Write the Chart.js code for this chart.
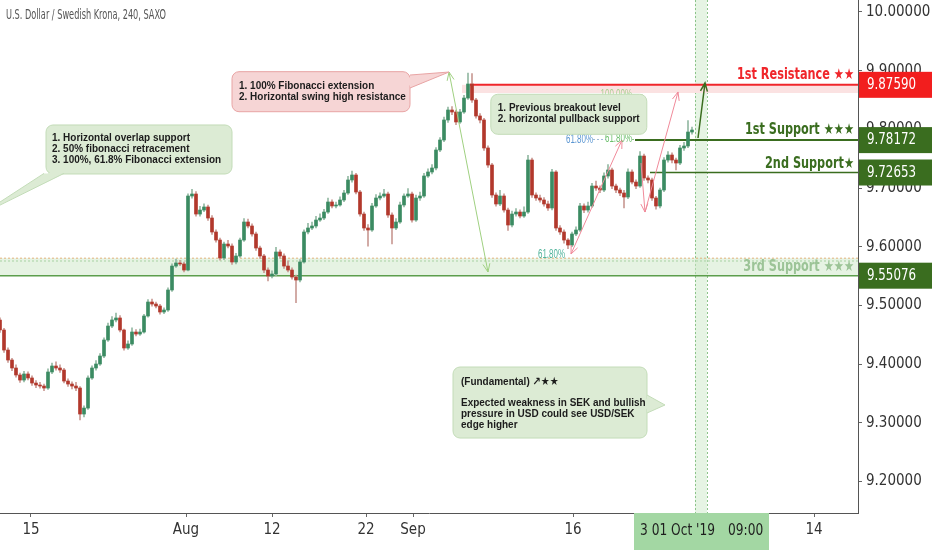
<!DOCTYPE html>
<html>
<head>
<meta charset="utf-8">
<script src="https://cdn.jsdelivr.net/npm/chart.js@4.4.0/dist/chart.umd.min.js"></script>
<style>
  html, body { margin: 0; padding: 0; background: #fff; }
</style>
</head>
<body>
<canvas id="usdsek" width="932" height="550"></canvas>
<script>
// USD/SEK 240 candles (open = previous close)
const firstOpen = 9.4753;
const closes = [
  9.4582,9.4241,9.4071,9.3935,9.3816,9.3730,9.3833,9.3765,9.3679,9.3645,
  9.3628,9.3594,9.3867,9.3969,9.3935,9.3901,9.3713,9.3662,9.3628,9.3594,
  9.3151,9.3253,9.3765,9.3935,9.4003,9.4139,9.4412,9.4650,9.4753,9.4787,
  9.4582,9.4276,9.4344,9.4548,9.4514,9.4548,9.4821,9.5059,9.5025,9.4991,
  9.4889,9.4923,9.5264,9.5672,9.5724,9.5707,9.5604,9.6865,9.6899,9.6558,
  9.6626,9.6678,9.6490,9.6252,9.6115,9.5809,9.6047,9.6013,9.5741,9.5843,
  9.6115,9.6422,9.6354,9.6218,9.5979,9.5843,9.5604,9.5502,9.5536,9.5911,
  9.5843,9.5672,9.5604,9.5485,9.5434,9.5741,9.6252,9.6320,9.6354,9.6456,
  9.6490,9.6592,9.6763,9.6695,9.6712,9.6797,9.6916,9.7138,9.7223,9.6933,
  9.6558,9.6320,9.6286,9.6695,9.6831,9.6865,9.6899,9.6541,9.6320,9.6422,
  9.6712,9.6865,9.6899,9.6456,9.6831,9.6865,9.7206,9.7274,9.7342,9.7649,
  9.7819,9.8160,9.8330,9.8296,9.8126,9.8296,9.8534,9.8773,9.8500,9.8228,
  9.8160,9.7683,9.7393,9.6882,9.6729,9.6865,9.6626,9.6371,9.6558,9.6592,
  9.6524,9.6592,9.7478,9.6882,9.6831,9.6797,9.6729,9.6661,9.7274,9.6320,
  9.6252,9.6115,9.6030,9.6218,9.6286,9.6695,9.6626,9.6695,9.7035,9.7001,
  9.6967,9.7206,9.7308,9.7035,9.6967,9.6916,9.6848,9.7274,9.7103,9.7035,
  9.7546,9.7172,9.7138,9.6831,9.6695,9.6967,9.7478,9.7563,9.7478,9.7427,
  9.7683,9.7717,9.7955,9.7989
];
const highs = [
  9.4790,9.4610,9.4280,9.4100,9.3990,9.3850,9.3880,9.3870,9.3800,9.3720,
  9.3690,9.3660,9.3920,9.4020,9.4040,9.3990,9.3930,9.3750,9.3700,9.3690,
  9.3620,9.3290,9.3800,9.3970,9.4060,9.4180,9.4450,9.4700,9.4810,9.4870,
  9.4830,9.4600,9.4400,9.4620,9.4590,9.4600,9.4850,9.5100,9.5110,9.5060,
  9.5020,9.4960,9.5300,9.5710,9.5790,9.5770,9.5740,9.6900,9.6980,9.6940,
  9.6690,9.6730,9.6710,9.6530,9.6290,9.6150,9.6080,9.6110,9.6050,9.5890,
  9.6150,9.6480,9.6470,9.6390,9.6250,9.6010,9.5870,9.5640,9.5590,9.5990,
  9.5950,9.5880,9.5760,9.5640,9.5520,9.5780,9.6290,9.6400,9.6420,9.6520,
  9.6560,9.6640,9.6830,9.6800,9.6760,9.6850,9.6960,9.7200,9.7290,9.7250,
  9.6960,9.6590,9.6380,9.6740,9.6890,9.6920,9.6980,9.6930,9.6580,9.6480,
  9.6760,9.6900,9.6990,9.6930,9.6880,9.6930,9.7250,9.7330,9.7400,9.7690,
  9.7860,9.8210,9.8380,9.8390,9.8330,9.8340,9.8580,9.8960,9.8950,9.8530,
  9.8270,9.8190,9.7720,9.7420,9.6920,9.6960,9.6900,9.6660,9.6610,9.6650,
  9.6630,9.6680,9.7560,9.7510,9.6920,9.6880,9.6840,9.6780,9.7320,9.7300,
  9.6360,9.6290,9.6140,9.6250,9.6340,9.6740,9.6730,9.6760,9.7080,9.7120,
  9.7040,9.7260,9.7400,9.7340,9.7070,9.7000,9.6960,9.7330,9.7310,9.7140,
  9.7620,9.7580,9.7210,9.7170,9.6860,9.7000,9.7520,9.7620,9.7600,9.7510,
  9.7730,9.7780,9.8150,9.8040
];
const lows = [
  9.4540,9.4200,9.4030,9.3890,9.3780,9.3690,9.3700,9.3730,9.3640,9.3600,
  9.3590,9.3550,9.3570,9.3840,9.3900,9.3860,9.3680,9.3620,9.3580,9.3550,
  9.3050,9.3100,9.3230,9.3740,9.3900,9.3980,9.4110,9.4390,9.4620,9.4720,
  9.4550,9.4240,9.4250,9.4320,9.4480,9.4490,9.4530,9.4800,9.4990,9.4960,
  9.4850,9.4860,9.4900,9.5240,9.5650,9.5680,9.5570,9.5590,9.6830,9.6520,
  9.6520,9.6600,9.6450,9.6210,9.6080,9.5770,9.5780,9.5980,9.5700,9.5710,
  9.5820,9.6090,9.6320,9.6180,9.5940,9.5800,9.5560,9.5420,9.5470,9.5510,
  9.5800,9.5630,9.5570,9.5450,9.5050,9.5400,9.5720,9.6220,9.6290,9.6320,
  9.6430,9.6460,9.6570,9.6660,9.6660,9.6690,9.6770,9.6890,9.7100,9.6900,
  9.6520,9.6280,9.6010,9.6260,9.6670,9.6800,9.6840,9.6500,9.6050,9.6290,
  9.6400,9.6680,9.6840,9.6420,9.6430,9.6790,9.6840,9.7180,9.7240,9.7310,
  9.7620,9.7790,9.8120,9.8250,9.8080,9.8100,9.8270,9.8510,9.8460,9.8190,
  9.8110,9.7640,9.7350,9.6840,9.6690,9.6700,9.6590,9.6280,9.6340,9.6520,
  9.6490,9.6500,9.6570,9.6840,9.6790,9.6760,9.6690,9.6620,9.6630,9.6280,
  9.6210,9.6060,9.5970,9.6000,9.6190,9.6260,9.6580,9.6590,9.6670,9.6960,
  9.6920,9.6940,9.7170,9.6990,9.6920,9.6870,9.6660,9.6820,9.7070,9.6990,
  9.7010,9.7130,9.7090,9.6790,9.6640,9.6660,9.6940,9.7440,9.7430,9.7310,
  9.7400,9.7640,9.7690,9.7920
];

// axes
const priceTicks = [9.2, 9.3, 9.4, 9.5, 9.6, 9.7, 9.8, 9.9, 10.0];
const xTickPos = [7.75, 46.5, 68, 91.5, 103.25, 143.25, 203.5];
const xTickLabels = ['15', 'Aug', '12', '22', 'Sep', '16', '14'];

// key levels
const levelPrices = [9.87590, 9.78172, 9.72653, 9.55076];
const levelNames = ['1st Resistance \u2605\u2605', '1st Support \u2605\u2605\u2605', '2nd Support\u2605', '3rd Support \u2605\u2605\u2605'];

const X_MAX = 214.5;
const UP = '#3b8b62', DOWN = '#b2382c';
const WICK_UP = '#93b9a3', WICK_DOWN = '#c99a94';
const RED = '#f0262b', DKGREEN = '#3a6d1f';

const opens = closes.map((c, i) => i === 0 ? firstOpen : closes[i - 1]);
const isUp = closes.map((c, i) => c >= opens[i]);

// squeezed text, the picture is narrow
function sqText(ctx, s, x, y, font, color, targetRef, targetW, align) {
  ctx.save();
  ctx.font = font;
  ctx.fillStyle = color;
  ctx.textBaseline = 'middle';
  ctx.textAlign = 'left';
  const sx = targetW / ctx.measureText(targetRef).width;
  const w = ctx.measureText(s).width * sx;
  const left = align === 'right' ? x - w : (align === 'center' ? x - w / 2 : x);
  ctx.translate(left, y);
  ctx.scale(sx, 1);
  ctx.fillText(s, 0, 0);
  ctx.restore();
}

function arrow(ctx, x1, y1, x2, y2, color, width, headStart, headEnd) {
  ctx.save();
  ctx.strokeStyle = color;
  ctx.lineWidth = width;
  ctx.beginPath();
  ctx.moveTo(x1, y1);
  ctx.lineTo(x2, y2);
  const head = (ax, ay, bx, by) => {
    const ang = Math.atan2(ay - by, ax - bx);
    const L = 9;
    ctx.moveTo(ax - L * Math.cos(ang - 0.4), ay - L * Math.sin(ang - 0.4));
    ctx.lineTo(ax, ay);
    ctx.lineTo(ax - L * Math.cos(ang + 0.4), ay - L * Math.sin(ang + 0.4));
  };
  if (headEnd) head(x2, y2, x1, y1);
  if (headStart) head(x1, y1, x2, y2);
  ctx.stroke();
  ctx.restore();
}

const callouts = [
  { box: [11.5, 9.8075, 58, 9.7240], fill: '#dcebd4', stroke: '#c3dcb8',
    tail: [[11, 9.7250], [-5, 9.6541], [16, 9.7250]],
    padX: 6, padTop: 12.7, lineH: 11.3,
    lines: ['1. Horizontal overlap support', '2. 50% fibonacci retracement', '3. 100%, 61.8% Fibonacci extension'] },
  { box: [58, 9.8983, 102.5, 9.8301], fill: '#f6d5d5', stroke: '#e8a4a4',
    tail: [[102.5, 9.8926], [112.25, 9.8977], [102.5, 9.8705]],
    padX: 7, padTop: 14, lineH: 11.3,
    lines: ['1. 100% Fibonacci extension', '2. Horizontal swing high resistance'] },
  { box: [122.7, 9.8598, 161.7, 9.7916], fill: '#dcebd4', stroke: '#c3dcb8',
    tail: null, padX: 7, padTop: 13.7, lineH: 11.3,
    lines: ['1. Previous breakout level', '2. horizontal pullback support'] },
  { box: [113.25, 9.3952, 161.75, 9.2742], fill: '#dcebd4', stroke: '#c3dcb8',
    tail: [[161.75, 9.3475], [166.25, 9.3305], [161.75, 9.3168]],
    padX: 8, padTop: 14.7, lineH: 10.8,
    lines: ['(Fundamental) \u2197\u2605\u2605', '', 'Expected weakness in SEK and bullish', 'pressure in USD could see USD/SEK', 'edge higher'] }
];

const CALL_FONT = 'bold 11.5px "Liberation Sans", "DejaVu Sans", sans-serif';
const CALL_REF = '1. Horizontal overlap support';

function drawCallout(ctx, c, px, py) {
  const x1 = px(c.box[0]), y1 = py(c.box[1]), x2 = px(c.box[2]), y2 = py(c.box[3]);
  ctx.save();
  ctx.lineWidth = 1;
  ctx.fillStyle = c.fill;
  ctx.strokeStyle = c.stroke;
  ctx.beginPath();
  ctx.roundRect(x1, y1, x2 - x1, y2 - y1, 7);
  ctx.fill();
  ctx.stroke();
  if (c.tail) {
    const t = c.tail.map(p => [px(p[0]), py(p[1])]);
    ctx.beginPath();
    ctx.moveTo(t[0][0], t[0][1]);
    ctx.lineTo(t[1][0], t[1][1]);
    ctx.lineTo(t[2][0], t[2][1]);
    ctx.closePath();
    ctx.fill();
    ctx.beginPath();
    ctx.moveTo(t[0][0], t[0][1]);
    ctx.lineTo(t[1][0], t[1][1]);
    ctx.lineTo(t[2][0], t[2][1]);
    ctx.stroke();
    // cover the border across the tail opening
    const cx = (t[0][0] + t[2][0]) / 2, cy = (t[0][1] + t[2][1]) / 2;
    const inX = (x1 + x2) / 2 - cx, inY = (y1 + y2) / 2 - cy;
    const n = Math.hypot(inX, inY);
    const dx = inX / n * 2, dy = inY / n * 2;
    ctx.beginPath();
    ctx.moveTo(t[0][0] * 0.85 + t[2][0] * 0.15 + dx, t[0][1] * 0.85 + t[2][1] * 0.15 + dy);
    ctx.lineTo(t[1][0] * 0.3 + cx * 0.7, t[1][1] * 0.3 + cy * 0.7);
    ctx.lineTo(t[2][0] * 0.85 + t[0][0] * 0.15 + dx, t[2][1] * 0.85 + t[0][1] * 0.15 + dy);
    ctx.closePath();
    ctx.fill();
  }
  ctx.restore();
  c.lines.forEach((s, k) => {
    if (s) sqText(ctx, s, x1 + c.padX, y1 + c.padTop + k * c.lineH, CALL_FONT, '#1c1c1c', CALL_REF, 138, 'left');
  });
}

const overlay = {
  id: 'overlay',
  beforeDatasetsDraw(chart) {
    const { ctx, chartArea: a, scales: { x, y } } = chart;
    const px = v => x.getPixelForValue(v), py = v => y.getPixelForValue(v);
    ctx.save();
    ctx.beginPath();
    ctx.rect(a.left, a.top, a.width, a.height);
    ctx.clip();

    // projected time band
    ctx.fillStyle = 'rgba(200, 230, 196, 0.45)';
    ctx.fillRect(px(173.75), a.top, px(176.75) - px(173.75), a.height);
    ctx.strokeStyle = '#8cc48a';
    ctx.lineWidth = 1;
    ctx.setLineDash([2, 2]);
    [173.75, 176.75].forEach(v => {
      ctx.beginPath(); ctx.moveTo(px(v) + 0.5, a.top); ctx.lineTo(px(v) + 0.5, a.bottom); ctx.stroke();
    });

    // resistance zone
    ctx.setLineDash([]);
    ctx.fillStyle = '#fbe2e2';
    ctx.fillRect(px(115.5), py(9.8759), a.right - px(115.5), py(9.8620) - py(9.8759));

    // 3rd support zone
    ctx.fillStyle = 'rgba(205, 232, 200, 0.5)';
    ctx.fillRect(a.left, py(9.5806), a.width, py(levelPrices[3]) - py(9.5806));
    ctx.setLineDash([2, 2]);
    ctx.strokeStyle = '#e2b27c';
    ctx.beginPath(); ctx.moveTo(a.left, py(9.5806)); ctx.lineTo(a.right, py(9.5806)); ctx.stroke();
    ctx.strokeStyle = '#a9d2a4';
    ctx.beginPath(); ctx.moveTo(a.left, py(9.5758)); ctx.lineTo(a.right, py(9.5758)); ctx.stroke();

    // fib dotted levels
    ctx.strokeStyle = '#9fb9d6';
    ctx.beginPath(); ctx.moveTo(px(148.25), py(9.7828)); ctx.lineTo(px(151.5), py(9.7828)); ctx.stroke();
    ctx.strokeStyle = '#8cc48a';
    ctx.beginPath(); ctx.moveTo(px(158), py(9.7828)); ctx.lineTo(px(160), py(9.7828)); ctx.stroke();
    ctx.strokeStyle = '#b9d9a7';
    ctx.beginPath(); ctx.moveTo(px(158.25), py(9.8586)); ctx.lineTo(px(160.75), py(9.8586)); ctx.stroke();
    ctx.setLineDash([]);

    // level lines
    ctx.lineWidth = 2;
    ctx.strokeStyle = RED;
    ctx.beginPath(); ctx.moveTo(px(117.5), py(levelPrices[0])); ctx.lineTo(a.right, py(levelPrices[0])); ctx.stroke();
    ctx.strokeStyle = DKGREEN;
    ctx.beginPath(); ctx.moveTo(px(158.75), py(levelPrices[1])); ctx.lineTo(a.right, py(levelPrices[1])); ctx.stroke();
    ctx.lineWidth = 1.5;
    ctx.beginPath(); ctx.moveTo(px(162.5), py(levelPrices[2])); ctx.lineTo(a.right, py(levelPrices[2])); ctx.stroke();
    ctx.strokeStyle = '#5c9e4c';
    ctx.beginPath(); ctx.moveTo(a.left, py(levelPrices[3])); ctx.lineTo(a.right, py(levelPrices[3])); ctx.stroke();
    ctx.restore();
  },
  afterDatasetsDraw(chart) {
    const { ctx, chartArea: a, scales: { x, y } } = chart;
    const px = v => x.getPixelForValue(v), py = v => y.getPixelForValue(v);
    ctx.save();
    ctx.beginPath();
    ctx.rect(a.left, a.top, a.width, a.height);
    ctx.clip();

    // measurement arrows
    arrow(ctx, px(112.25), py(9.8977), px(122), py(9.5570), '#9fd080', 1, true, true);
    arrow(ctx, px(142.75), py(9.5877), px(155.5), py(9.7819), '#f08a9a', 1, true, true);
    arrow(ctx, px(160.25), py(9.7427), px(161.25), py(9.6592), '#f08a9a', 1, false, true);
    arrow(ctx, px(161.25), py(9.6592), px(169.5), py(9.8637), '#f08a9a', 1, false, true);
    arrow(ctx, px(174.5), py(9.7853), px(176.25), py(9.8790), DKGREEN, 1.5, false, true);

    // fib labels
    const fibFont = '12px "Liberation Sans", "DejaVu Sans", sans-serif';
    sqText(ctx, '100.00%', px(158), py(9.8586), fibFont, '#a7d08f', '61.80%', 27, 'right');
    sqText(ctx, '61.80%', px(148.25), py(9.7819), fibFont, '#5b96d2', '61.80%', 27, 'right');
    sqText(ctx, '61.80%', px(158), py(9.7836), fibFont, '#6cbf6c', '61.80%', 27, 'right');
    sqText(ctx, '61.80%', px(141.25), py(9.5860), fibFont, '#4fb39a', '61.80%', 27, 'right');

    callouts.forEach(c => drawCallout(ctx, c, px, py));

    // level names
    const lvFont = 'bold 15px "DejaVu Sans", sans-serif';
    const lvY = [9.8926, 9.7989, 9.7410, 9.5655];
    const lvCol = [RED, DKGREEN, DKGREEN, '#9cc497'];
    levelNames.forEach((s, k) => sqText(ctx, s, px(213.5), py(lvY[k]), lvFont, lvCol[k], levelNames[0], 117, 'right'));

    // title
    sqText(ctx, 'U.S. Dollar / Swedish Krona, 240, SAXO', a.left + 6, a.top + 15,
      '14px "DejaVu Sans", sans-serif', '#555', 'U.S. Dollar / Swedish Krona, 240, SAXO', 160, 'left');
    ctx.restore();
  },
  afterDraw(chart) {
    const { ctx, chartArea: a, scales: { x, y } } = chart;
    const py = v => y.getPixelForValue(v);
    const W = chart.width, H = chart.height;
    // price tags on the axis
    const boxCol = ['#f21e1e', DKGREEN, DKGREEN, DKGREEN];
    levelPrices.forEach((p, k) => {
      const cy = py(p);
      ctx.fillStyle = boxCol[k];
      ctx.fillRect(a.right + 1, cy - 13, W - a.right - 1, 26);
      sqText(ctx, p.toFixed(5), a.right + 9, cy, '16px "DejaVu Sans", sans-serif', '#fff', '9.87590', 49, 'left');
    });
    // crosshair date tag
    const bx = x.getPixelForValue(158.5), bx2 = x.getPixelForValue(192.25);
    ctx.fillStyle = '#a3d7a3';
    ctx.fillRect(bx, a.bottom, bx2 - bx, H - a.bottom);
    const tf = '16px "DejaVu Sans", sans-serif';
    sqText(ctx, "3 01 Oct '19", bx + 6, a.bottom + 18, tf, '#1e1e1e', "3 01 Oct '19", 75, 'left');
    sqText(ctx, '09:00', bx + 94, a.bottom + 18, tf, '#1e1e1e', "3 01 Oct '19", 75, 'left');
  }
};

const ctx = document.getElementById('usdsek').getContext('2d');
const usdsekChart = new Chart(ctx, {
  type: 'bar',
  data: {
    datasets: [
      {
        label: 'wick',
        data: closes.map((c, i) => ({ x: i, y: [lows[i], highs[i]] })),
        backgroundColor: isUp.map(u => u ? WICK_UP : WICK_DOWN),
        barThickness: 1,
        grouped: false,
        order: 2
      },
      {
        label: 'body',
        data: closes.map((c, i) => ({ x: i, y: [opens[i], c] })),
        backgroundColor: isUp.map(u => u ? UP : DOWN),
        barThickness: 3,
        minBarLength: 1,
        grouped: false,
        order: 1
      }
    ]
  },
  options: {
    responsive: false,
    animation: false,
    devicePixelRatio: 1,
    layout: { padding: 0 },
    plugins: { legend: { display: false }, tooltip: { enabled: false } },
    scales: {
      x: {
        type: 'linear',
        min: 0,
        max: X_MAX,
        offset: false,
        grid: { offset: false, drawOnChartArea: false, tickLength: 4, color: '#666' },
        border: { color: '#555' },
        afterBuildTicks: s => { s.ticks = xTickPos.map(v => ({ value: v })); },
        afterFit: s => { s.height = 37; s.paddingLeft = 0; s.paddingRight = 0; },
        ticks: {
          autoSkip: false,
          maxRotation: 0,
          padding: 4,
          color: '#333',
          font: { family: '"DejaVu Sans Condensed", "DejaVu Sans", sans-serif', size: 15 },
          callback: (v, i) => xTickLabels[i]
        }
      },
      y: {
        position: 'right',
        min: 9.1465,
        max: 10.0204,
        grid: { drawOnChartArea: false, tickLength: 4, color: '#666' },
        border: { color: '#555' },
        afterBuildTicks: s => { s.ticks = priceTicks.map(v => ({ value: v })); },
        afterFit: s => { s.width = 74; s.paddingTop = 0; s.paddingBottom = 0; },
        ticks: {
          padding: 4,
          color: '#333',
          font: { family: '"DejaVu Sans Condensed", "DejaVu Sans", sans-serif', size: 15 },
          callback: v => v.toFixed(5)
        }
      }
    }
  },
  plugins: [overlay]
});
</script>
</body>
</html>
